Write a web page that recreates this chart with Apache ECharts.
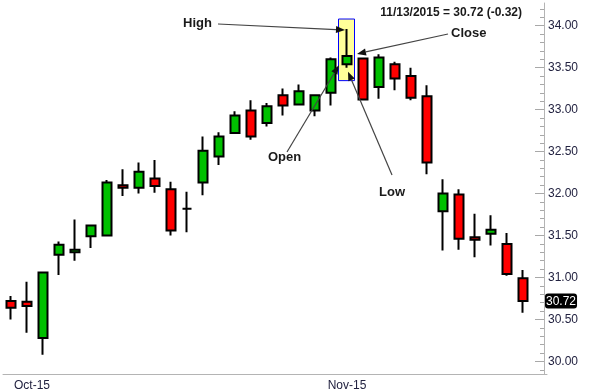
<!DOCTYPE html>
<html>
<head>
<meta charset="utf-8">
<script src="https://cdn.jsdelivr.net/npm/echarts@6/dist/echarts.min.js"></script>
<style>
html,body{margin:0;padding:0;background:#fff;}
#chart{width:590px;height:389px;}
</style>
</head>
<body>
<div id="chart"></div>
<script>
const dates = ['9/30/2015','10/1/2015','10/2/2015','10/5/2015','10/6/2015','10/7/2015','10/8/2015','10/9/2015',
  '10/12/2015','10/13/2015','10/14/2015','10/15/2015','10/16/2015','10/19/2015','10/20/2015','10/21/2015',
  '10/22/2015','10/23/2015','10/26/2015','10/27/2015','10/28/2015','10/29/2015','10/30/2015','11/2/2015',
  '11/3/2015','11/4/2015','11/5/2015','11/6/2015','11/9/2015','11/10/2015','11/11/2015','11/12/2015','11/13/2015'];
const openP  = [30.72,30.71,30.28,31.27,31.30,31.49,31.50,32.10,32.07,32.18,32.05,31.82,32.13,32.44,32.72,32.99,32.84,33.17,33.06,32.99,33.20,33.54,33.61,33.27,33.54,33.40,33.16,31.79,31.99,31.48,31.52,31.40,30.99];
const highP  = [30.78,30.95,31.06,31.43,31.69,31.63,32.16,32.29,32.37,32.40,32.14,32.02,32.68,32.73,32.98,33.11,33.08,33.25,33.30,33.17,33.62,33.96,33.62,33.66,33.57,33.50,33.29,32.17,32.05,31.76,31.74,31.53,31.09];
const lowP   = [30.50,30.34,30.08,31.03,31.20,31.35,31.50,31.97,32.00,32.01,31.50,31.54,31.98,32.34,32.72,32.64,32.80,32.93,33.05,32.92,33.05,33.50,33.11,33.13,33.23,33.11,32.23,31.32,31.33,31.24,31.38,31.02,30.58];
const closeP = [30.64,30.66,31.06,31.39,31.33,31.62,32.13,32.07,32.26,32.09,31.56,31.82,32.51,32.68,32.93,32.68,33.04,33.05,33.22,33.17,33.60,33.64,33.12,33.62,33.37,33.14,32.37,32.00,31.46,31.45,31.57,31.04,30.72];
const xTickIdx  = [1, 21];
const xTickText = ['Oct-15', 'Nov-15'];
const yMajorTicks = [30, 30.5, 31, 31.5, 32, 32.5, 33, 33.5, 34];
const yMinorTicks = [29.9,30.0,30.1,30.2,30.3,30.4,30.5,30.6,30.7,30.8,30.9,31.0,31.1,31.2,31.3,31.4,31.5,31.6,31.7,31.8,31.9,
  32.0,32.1,32.2,32.3,32.4,32.5,32.6,32.7,32.8,32.9,33.0,33.1,33.2,33.3,33.4,33.5,33.6,33.7,33.8,33.9,34.0,34.1,34.2];
const noteIdx = 21; // candle highlighted by the annotations

const cats = dates.concat(['']);
const ohlc = dates.map((d, i) => [openP[i], closeP[i], lowP[i], highP[i]]);
const n = dates.length;
const lastClose = closeP[n - 1];
const change = lastClose - closeP[n - 2];
const headerText = dates[n - 1] + ' = ' + lastClose.toFixed(2) + ' (' + (change >= 0 ? '+' : '') + change.toFixed(2) + ')';

const FONT = '"Liberation Sans", Arial, sans-serif';
const chart = echarts.init(document.getElementById('chart'), null, {renderer: 'canvas'});
const yMin = 29.85, yMax = 34.27;

chart.setOption({
  animation: false,
  backgroundColor: '#ffffff',
  title: {
    text: headerText, right: 63, top: 2,
    textStyle: {fontFamily: FONT, fontSize: 12, fontWeight: 'bold', color: '#1a1a1a'}
  },
  grid: {left: 3, right: 43, top: 3, bottom: 15, containLabel: false, outerBoundsMode: 'none'},
  xAxis: {
    type: 'category', data: cats, boundaryGap: true,
    axisLine: {show: true, lineStyle: {color: '#b4b4b4', width: 1}},
    axisTick: {show: false},
    splitLine: {show: false},
    axisLabel: {
      interval: (idx) => xTickIdx.indexOf(idx) >= 0,
      formatter: (val, idx) => {
        const k = xTickIdx.indexOf(idx);
        if (k < 0) return '';
        return k === 0 ? '{o|' + xTickText[k] + '}' : xTickText[k];
      },
      rich: {o: {padding: [0, 0, 0, 10], fontFamily: FONT, fontSize: 12, color: '#222240'}},
      fontFamily: FONT, fontSize: 12, color: '#222240', margin: 6
    }
  },
  yAxis: [{
    type: 'value', position: 'right', offset: -3, min: yMin, max: yMax, scale: true,
    axisLine: {show: true, lineStyle: {color: '#b4b4b4', width: 1}},
    axisTick: {show: true, inside: true, length: 9, customValues: yMajorTicks, lineStyle: {color: '#a8a8a8'}},
    axisLabel: {show: true, customValues: yMajorTicks, formatter: (v) => v.toFixed(2),
      fontFamily: FONT, fontSize: 12, color: '#222240', margin: 4},
    splitLine: {show: false},
    axisPointer: {
      show: true, value: lastClose, status: 'show', type: 'line', triggerTooltip: false, snap: false,
      lineStyle: {opacity: 0, width: 0},
      label: {show: true, formatter: (p) => Number(p.value).toFixed(2), margin: 1,
        backgroundColor: '#000000', color: '#ffffff', fontFamily: FONT, fontSize: 12, padding: [2, 1, 1, 1],
        borderWidth: 0, shadowBlur: 0}
    }
  }, {
    type: 'value', position: 'right', offset: -3, min: yMin, max: yMax, scale: true,
    axisLine: {show: false},
    axisTick: {show: true, inside: true, length: 4, customValues: yMinorTicks, lineStyle: {color: '#a8a8a8'}},
    axisLabel: {show: false},
    splitLine: {show: false}
  }],
  series: [{
    type: 'candlestick',
    data: ohlc,
    xAxisIndex: 0, yAxisIndex: 0,
    barWidth: 10,
    z: 5,
    itemStyle: {
      color: '#00c000', color0: '#ff0000',
      borderColor: '#000000', borderColor0: '#000000', borderColorDoji: '#000000',
      borderWidth: 2
    }
  }]
});

// Annotations anchored to the highlighted candle
const px = (v) => chart.convertToPixel({xAxisIndex: 0, yAxisIndex: 0}, [noteIdx, v]);
const pH = px(highP[noteIdx]), pL = px(lowP[noteIdx]), pO = px(openP[noteIdx]), pC = px(closeP[noteIdx]);
const cx = pH[0];

function arrow(x1, y1, x2, y2) {
  const dx = x2 - x1, dy = y2 - y1, len = Math.sqrt(dx * dx + dy * dy);
  const ux = dx / len, uy = dy / len, hl = 9, hw = 3.5;
  const bx = x2 - ux * hl, by = y2 - uy * hl;
  return [
    {type: 'line', z: 10, shape: {x1: x1, y1: y1, x2: bx, y2: by}, style: {stroke: '#444444', lineWidth: 1.2}},
    {type: 'polygon', z: 10, shape: {points: [[x2, y2], [bx - uy * hw, by + ux * hw], [bx + uy * hw, by - ux * hw]]},
      style: {fill: '#111111'}}
  ];
}
function label(text, x, y) {
  return {type: 'text', z: 10, x: x, y: y,
    style: {text: text, fill: '#1a1a1a', font: 'bold 13px "Liberation Sans", Arial, sans-serif',
      align: 'left', verticalAlign: 'middle'}};
}

const g = [];
g.push({type: 'rect', z: 1, shape: {x: cx - 8.5, y: pH[1] - 10, width: 16, height: (pL[1] + 13) - (pH[1] - 10)},
  style: {fill: '#ffff99', stroke: '#0000ff', lineWidth: 1}});
g.push(...arrow(218, 24, cx - 2, pH[1] + 1));
g.push(...arrow(448, 34, cx + 10, pC[1] - 2));
g.push(...arrow(287, 152, cx - 8, pO[1] + 1));
g.push(...arrow(392, 175, cx + 1, pL[1] + 4));
g.push(label('High', 183, 23));
g.push(label('Close', 451, 33));
g.push(label('Open', 268, 157));
g.push(label('Low', 379, 192));
chart.setOption({graphic: g});
</script>
</body>
</html>
